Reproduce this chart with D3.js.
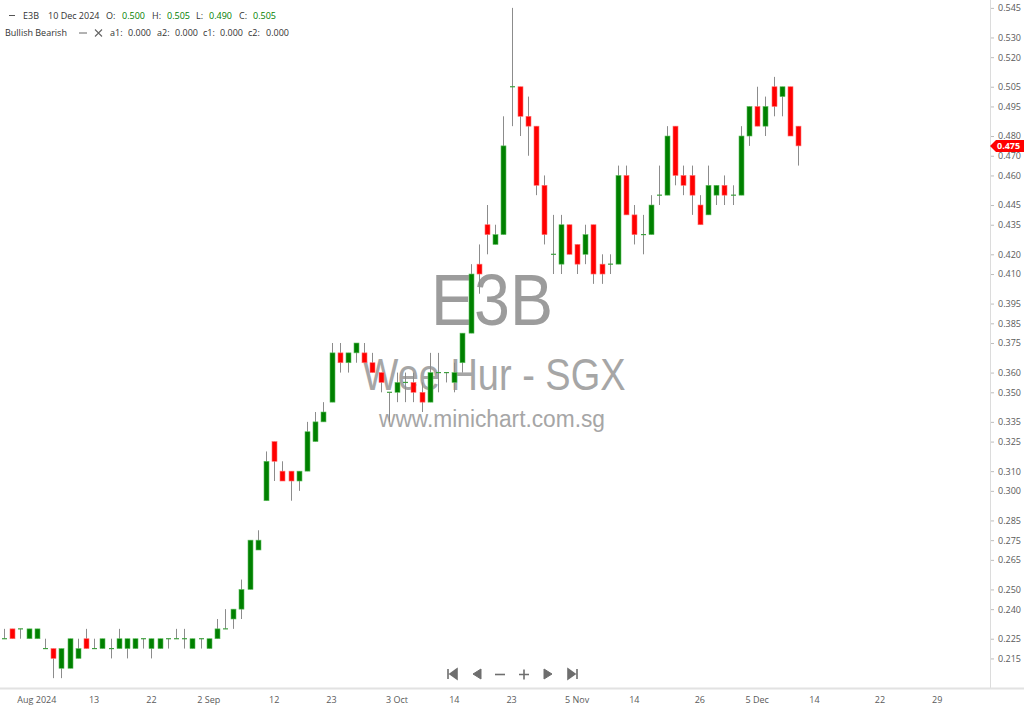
<!DOCTYPE html>
<html>
<head>
<meta charset="utf-8">
<script src="https://cdn.jsdelivr.net/npm/d3@7"></script>
<style>
  body { margin: 0; background: #fff; }
  svg { display: block; }
</style>
</head>
<body>
<svg id="chart" width="1024" height="708"></svg>
<script>
// trading days shown (SGX, 26 Jul - 12 Dec 2024)
var dates = [
  "2024-07-26","2024-07-29","2024-07-30","2024-07-31",
  "2024-08-01","2024-08-02","2024-08-05","2024-08-06","2024-08-07","2024-08-08","2024-08-12","2024-08-13",
  "2024-08-14","2024-08-15","2024-08-16","2024-08-19","2024-08-20","2024-08-21","2024-08-22","2024-08-23",
  "2024-08-26","2024-08-27","2024-08-28","2024-08-29","2024-08-30",
  "2024-09-02","2024-09-03","2024-09-04","2024-09-05","2024-09-06","2024-09-09","2024-09-10","2024-09-11",
  "2024-09-12","2024-09-13","2024-09-16","2024-09-17","2024-09-18","2024-09-19","2024-09-20","2024-09-23",
  "2024-09-24","2024-09-25","2024-09-26","2024-09-27","2024-09-30",
  "2024-10-01","2024-10-02","2024-10-03","2024-10-04","2024-10-07","2024-10-08","2024-10-09","2024-10-10",
  "2024-10-11","2024-10-14","2024-10-15","2024-10-16","2024-10-17","2024-10-18","2024-10-21","2024-10-22",
  "2024-10-23","2024-10-24","2024-10-25","2024-10-28","2024-10-29","2024-10-30",
  "2024-11-01","2024-11-04","2024-11-05","2024-11-06","2024-11-07","2024-11-08","2024-11-11","2024-11-12",
  "2024-11-13","2024-11-14","2024-11-15","2024-11-18","2024-11-19","2024-11-20","2024-11-21","2024-11-22",
  "2024-11-25","2024-11-26","2024-11-27","2024-11-28","2024-11-29",
  "2024-12-02","2024-12-03","2024-12-04","2024-12-05","2024-12-06","2024-12-09","2024-12-10","2024-12-11","2024-12-12"
]

var open = [
  .225,.230,.230,.225,.225,.220,.220,.210,.210,.215,.225,.220,.220,.220,.220,.220,.220,.225,.220,.220,
  .225,.225,.225,.220,.225,.220,.225,.230,.235,.240,.250,.270,.295,.325,.310,.310,.305,.310,.325,.335,
  .345,.370,.365,.370,.370,.365,.360,.350,.350,.355,.355,.350,.345,.360,.360,.355,.365,.380,.415,.435,
  .425,.430,.505,.505,.490,.485,.455,.420,.415,.435,.425,.420,.435,.415,.415,.415,.460,.440,.430,.430,
  .450,.450,.485,.460,.460,.445,.440,.450,.455,.450,.450,.480,.495,.485,.505,.500,.505,.485
]
var high = [
  .230,.230,.230,.230,.230,.225,.220,.220,.225,.225,.230,.225,.225,.225,.230,.225,.225,.225,.225,.225,
  .225,.230,.230,.225,.225,.225,.235,.240,.240,.255,.275,.280,.320,.325,.315,.310,.310,.335,.340,.345,
  .375,.375,.370,.375,.375,.370,.360,.350,.360,.360,.360,.355,.370,.370,.360,.365,.380,.415,.425,.445,
  .435,.490,.545,.505,.500,.485,.460,.440,.440,.435,.425,.435,.435,.420,.420,.465,.465,.445,.440,.450,
  .465,.485,.485,.465,.465,.450,.465,.455,.460,.455,.485,.495,.505,.500,.510,.505,.505,.485
]
var low = [
  .225,.225,.225,.225,.225,.220,.205,.205,.210,.215,.220,.220,.220,.215,.220,.215,.220,.220,.215,.220,
  .220,.225,.220,.220,.220,.220,.225,.230,.230,.235,.250,.270,.295,.305,.305,.295,.300,.310,.325,.335,
  .345,.360,.360,.365,.365,.360,.350,.335,.345,.345,.345,.340,.345,.350,.355,.350,.360,.380,.400,.420,
  .425,.430,.485,.480,.470,.450,.425,.410,.410,.420,.410,.415,.405,.405,.410,.415,.440,.425,.420,.430,
  .445,.450,.455,.450,.440,.435,.440,.445,.445,.445,.450,.475,.485,.480,.490,.490,.480,.465
]
var close = [
  .225,.225,.230,.230,.230,.220,.215,.220,.225,.220,.220,.220,.225,.220,.225,.225,.225,.225,.225,.225,
  .225,.225,.225,.225,.225,.225,.230,.230,.240,.250,.275,.275,.315,.315,.305,.305,.310,.330,.335,.340,
  .370,.365,.370,.375,.365,.360,.355,.350,.355,.355,.350,.345,.360,.360,.360,.360,.380,.410,.410,.430,
  .430,.475,.505,.490,.485,.455,.430,.420,.435,.420,.415,.430,.410,.410,.415,.460,.440,.430,.430,.445,
  .450,.480,.460,.455,.450,.435,.455,.455,.450,.450,.480,.495,.485,.495,.495,.505,.480,.475
]

var yTicks = [.545,.530,.520,.505,.495,.480,.470,.460,.445,.435,.420,.410,.395,.385,.375,
              .360,.350,.335,.325,.310,.300,.285,.275,.265,.250,.240,.225,.215]

var xTickLabels = ["Aug 2024","13","22","2 Sep","12","23","3 Oct","14","23","5 Nov","14","26","5 Dec","14","22","29"]
var xTickDates = ["2024-08-01","2024-08-13","2024-08-22","2024-09-02","2024-09-12","2024-09-23","2024-10-03",
                  "2024-10-14","2024-10-23","2024-11-05","2024-11-14","2024-11-26","2024-12-05",
                  "2024-12-14","2024-12-22","2024-12-29"]

var legendBar = 95   // bar under the cursor (10 Dec 2024)

var W = 1024, H = 708
var plotRight = 990, plotBottom = 688
var green = "#008000", red = "#ff0000", wickCol = "#8c8c8c"
var font = "'Open Sans', 'Liberation Sans', sans-serif"

var svg = d3.select("#chart")

var bars = dates.map((d, i) => ({ i: i, date: d, o: open[i], h: high[i], l: low[i], c: close[i] }))

var x = d3.scaleLinear().domain([-0.5, 120.45]).range([0, plotRight])
var y = d3.scaleLinear().domain([0.2, 0.549]).range([plotBottom, 0])

var step = x(1) - x(0)
var bodyW = Math.round(step * 0.62)

// x position of an axis date: trading day index, or calendar days past the last bar
var parse = d3.utcParse("%Y-%m-%d")
function dateIndex(s) {
    var k = dates.indexOf(s)
    if (k >= 0) return k
    var last = parse(dates[dates.length - 1])
    return dates.length - 1 + d3.utcDay.count(last, parse(s))
}

// watermark
var wm = svg.append("g").attr("fill", "#9c9c9c").attr("text-anchor", "middle")
    .attr("font-family", "'Liberation Sans', Arial, sans-serif")
wm.append("text").attr("x", 492).attr("y", 325).attr("font-size", 72)
    .attr("textLength", 122).attr("lengthAdjust", "spacingAndGlyphs").text("E3B")
wm.append("text").attr("x", 494).attr("y", 390).attr("font-size", 44).attr("fill", "#a6a6a6")
    .attr("textLength", 263).attr("lengthAdjust", "spacingAndGlyphs").text("Wee Hur - SGX")
wm.append("text").attr("x", 492).attr("y", 427).attr("font-size", 23).attr("fill", "#a6a6a6")
    .attr("textLength", 226).attr("lengthAdjust", "spacingAndGlyphs").text("www.minichart.com.sg")

// axes frame
svg.append("line").attr("x1", plotRight + 0.5).attr("x2", plotRight + 0.5).attr("y1", 0).attr("y2", plotBottom)
    .attr("stroke", "#dcdcdc")
svg.append("line").attr("x1", 0).attr("x2", W).attr("y1", plotBottom + 0.5).attr("y2", plotBottom + 0.5)
    .attr("stroke", "#e2e2e2").attr("stroke-width", 2)

// right price axis
var yAxis = d3.axisRight(y).tickValues(yTicks).tickSize(3).tickPadding(4).tickFormat(d3.format(".3f"))
var gy = svg.append("g").attr("transform", `translate(${plotRight + 1},0)`).call(yAxis)
gy.select(".domain").remove()
gy.selectAll(".tick line").attr("stroke", "#bdbdbd")
gy.selectAll(".tick text").attr("fill", "#5a5a5a").attr("font-size", 9).attr("font-family", font)

// bottom date axis
var gx = svg.append("g").attr("transform", `translate(0,${plotBottom})`)
gx.selectAll("text").data(xTickLabels).enter().append("text")
    .attr("x", (d, i) => x(dateIndex(xTickDates[i])))
    .attr("y", 15)
    .attr("text-anchor", "middle")
    .attr("fill", "#5a5a5a").attr("font-size", 9).attr("font-family", font)
    .text(d => d)

// candles
var cg = svg.append("g")
var cand = cg.selectAll("g").data(bars).enter().append("g")

cand.append("line")
    .attr("x1", d => Math.round(x(d.i)) + 0.5).attr("x2", d => Math.round(x(d.i)) + 0.5)
    .attr("y1", d => y(d.h)).attr("y2", d => y(d.l))
    .attr("stroke", wickCol).attr("stroke-width", 1)

cand.filter(d => d.o !== d.c).append("rect")
    .attr("x", d => Math.round(x(d.i)) + 0.5 - bodyW / 2)
    .attr("y", d => y(Math.max(d.o, d.c)))
    .attr("width", bodyW)
    .attr("height", d => Math.abs(y(d.o) - y(d.c)))
    .attr("fill", d => d.c > d.o ? green : red)
    .attr("stroke", d => d.c > d.o ? "#5fbf5f" : "#ff7070")
    .attr("stroke-width", 0.6)

cand.filter(d => d.o === d.c).append("line")
    .attr("x1", d => Math.round(x(d.i)) + 0.5 - bodyW / 2)
    .attr("x2", d => Math.round(x(d.i)) + 0.5 + bodyW / 2)
    .attr("y1", d => y(d.c)).attr("y2", d => y(d.c))
    .attr("stroke", "#3f9f3f").attr("stroke-width", 1.2)

// last price tag (sits over the neighbouring axis labels, as in the source chart)
var lastC = close[close.length - 1]
var ty = y(lastC)
svg.append("path")
    .attr("d", `M${plotRight},${ty} L${plotRight + 6},${ty - 6} L${W},${ty - 6} L${W},${ty + 6} L${plotRight + 6},${ty + 6} Z`)
    .attr("fill", red)
svg.append("text").attr("x", plotRight + 7).attr("y", ty + 3.2)
    .attr("fill", "#fff").attr("font-size", 9).attr("font-weight", "bold").attr("font-family", font)
    .text(d3.format(".3f")(lastC))

// legend
var lb = bars[legendBar]
var fmt = d3.format(".3f")
var lg = svg.append("g").attr("font-family", font).attr("font-size", 9).attr("fill", "#333")
lg.append("line").attr("x1", 9).attr("x2", 15).attr("y1", 15.5).attr("y2", 15.5).attr("stroke", "#555")
var row1 = [
    { t: "E3B", x: 23, c: "#333" },
    { t: d3.utcFormat("%-d %b %Y")(parse(lb.date)), x: 48, c: "#333" },
    { t: "O:", x: 106, c: "#333" }, { t: fmt(lb.o), x: 122, c: green },
    { t: "H:", x: 152, c: "#333" }, { t: fmt(lb.h), x: 167, c: green },
    { t: "L:", x: 196, c: "#333" }, { t: fmt(lb.l), x: 209, c: green },
    { t: "C:", x: 239, c: "#333" }, { t: fmt(lb.c), x: 253, c: green }
]
lg.selectAll("text.r1").data(row1).enter().append("text").attr("class", "r1")
    .attr("x", d => d.x).attr("y", 19).attr("fill", d => d.c).text(d => d.t)

var row2 = [
    { t: "Bullish Bearish", x: 5 },
    { t: "a1:", x: 110 }, { t: "0.000", x: 128 },
    { t: "a2:", x: 157 }, { t: "0.000", x: 175 },
    { t: "c1:", x: 203 }, { t: "0.000", x: 220 },
    { t: "c2:", x: 248 }, { t: "0.000", x: 266 }
]
lg.selectAll("text.r2").data(row2).enter().append("text").attr("class", "r2")
    .attr("x", d => d.x).attr("y", 36).text(d => d.t)
lg.append("line").attr("x1", 79).attr("x2", 87).attr("y1", 33).attr("y2", 33).attr("stroke", "#666")
lg.append("path").attr("d", "M95,29.5 L102,36.5 M102,29.5 L95,36.5").attr("stroke", "#666").attr("stroke-width", 1.1)

// navigation buttons
var nav = svg.append("g").attr("fill", "#6e6e6e").attr("stroke", "#6e6e6e")
nav.append("path").attr("d", "M448,669 L448,679 M457,669 L450,674 L457,679 Z").attr("stroke-width", 1.6)
nav.append("path").attr("d", "M481,669 L473,674 L481,679 Z").attr("stroke-width", 1)
nav.append("path").attr("d", "M495,674.5 L505,674.5").attr("stroke-width", 1.6)
nav.append("path").attr("d", "M519,674.5 L529,674.5 M524,669.5 L524,679.5").attr("stroke-width", 1.6).attr("fill", "none")
nav.append("path").attr("d", "M544,669 L552,674 L544,679 Z").attr("stroke-width", 1)
nav.append("path").attr("d", "M568,669 L575,674 L568,679 Z M577,669 L577,679").attr("stroke-width", 1.6)
</script>
</body>
</html>
